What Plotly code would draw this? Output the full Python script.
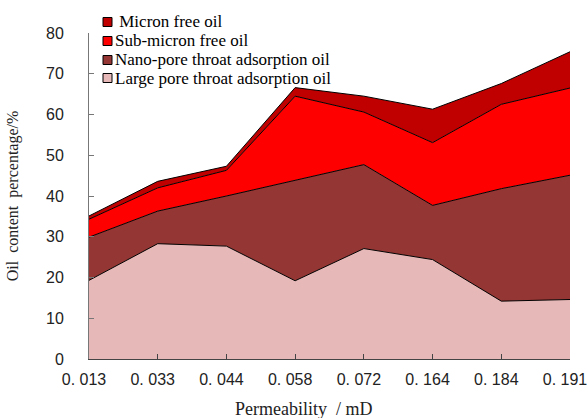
import plotly.graph_objects as go

permeability = ["0. 013", "0. 033", "0. 044", "0. 058", "0. 072", "0. 164", "0. 184", "0. 191"]
large_pore = [19.3, 28.3, 27.7, 19.2, 27.1, 24.4, 14.2, 14.6]
nano_pore = [10.6, 8.0, 12.3, 24.7, 20.6, 13.3, 27.6, 30.5]
sub_micron = [4.4, 5.7, 6.3, 20.6, 12.9, 15.4, 20.7, 21.4]
micron = [0.8, 1.6, 1.0, 2.1, 3.9, 8.2, 5.1, 8.9]

names = ["Large pore throat adsorption oil", "Nano-pore throat adsorption oil",
         "Sub-micron free oil", "\u00a0Micron free oil"]
series = [large_pore, nano_pore, sub_micron, micron]
colors = ["#E6B8B7", "#943634", "#FF0000", "#C00000"]

W, H = 587, 418
L, R, T, B = 89, W - 570, 33, H - 359
pw, ph = W - L - R, H - T - B


def px_x(x):  # window pixel -> paper coordinate
    return (x - L) / pw


def px_y(y):
    return (H - B - y) / ph


xs = list(range(len(permeability)))
fig = go.Figure()
for name, vals, col in zip(names, series, colors):
    fig.add_trace(go.Scatter(
        x=xs, y=vals, name=name, mode="lines", stackgroup="one",
        line=dict(color="black", width=1), fillcolor=col, showlegend=False,
    ))

# compact legend at the top-left (top entry = last series)
row_y = [22, 41, 60, 78]
for i, (name, col) in enumerate(reversed(list(zip(names, colors)))):
    yc = row_y[i]
    fig.add_shape(type="rect", xref="paper", yref="paper",
                  x0=px_x(103), x1=px_x(112), y0=px_y(yc + 4.5), y1=px_y(yc - 4.5),
                  fillcolor=col, line=dict(color="black", width=1))
    fig.add_annotation(text=name, xref="paper", yref="paper",
                       x=px_x(113), y=px_y(yc), xanchor="left", yanchor="middle",
                       showarrow=False,
                       font=dict(family="Liberation Serif", size=17, color="black"))

fig.add_annotation(text="Permeability\u00a0 / mD", xref="paper", yref="paper",
                   x=px_x(303), y=px_y(409), xanchor="center", yanchor="middle",
                   showarrow=False,
                   font=dict(family="Liberation Serif", size=18, color="#222"))

fig.update_layout(
    width=W, height=H,
    margin=dict(l=L, r=R, t=T, b=B, autoexpand=False),
    plot_bgcolor="white", paper_bgcolor="white",
    showlegend=False,
    xaxis=dict(range=[0, 7], tickvals=xs, ticktext=permeability,
               showline=True, linecolor="#444", ticks="inside", ticklen=5,
               tickcolor="#444", showgrid=False, zeroline=False, automargin=False,
               ticklabeloverflow="allow", ticklabelstandoff=6, ticklabelshift=-5,
               tickfont=dict(family="Liberation Sans", size=16, color="#222")),
    yaxis=dict(range=[0, 80], dtick=10, showline=True, linecolor="#777",
               ticks="inside", ticklen=5, tickcolor="#777", showgrid=False,
               zeroline=False, ticklabelstandoff=21, automargin=False,
               tickfont=dict(family="Liberation Sans", size=16, color="#222"),
               title=dict(text="Oil\u00a0 content\u00a0 percentage/%", standoff=23,
                          font=dict(family="Liberation Serif", size=16, color="#222"))),
)
fig.write_html("out.html",
               config={"displayModeBar": False},
               post_script="document.body.style.margin='0';"
                           "document.body.style.overflow='hidden';")
